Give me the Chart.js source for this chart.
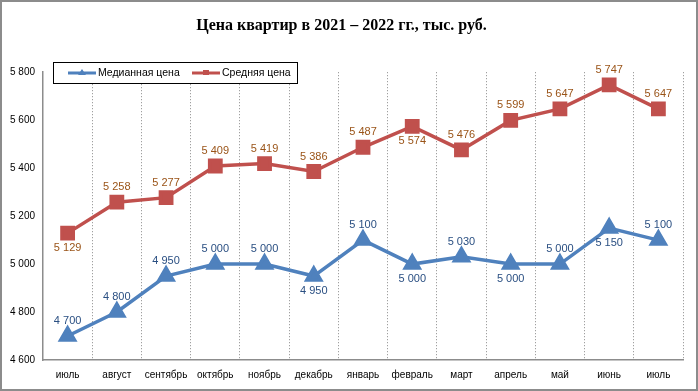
<!DOCTYPE html>
<html>
<head>
<meta charset="utf-8">
<script src="https://cdn.jsdelivr.net/npm/chart.js@4"></script>
<style>
  html, body { margin: 0; padding: 0; background: #fff; }
  #wrap { width: 698px; height: 391px; position: relative; }
</style>
</head>
<body>
<div id="wrap"><canvas id="priceChart"></canvas></div>
<script>
// months from July 2021 to July 2022
var months = ['июль', 'август', 'сентябрь', 'октябрь', 'ноябрь', 'декабрь', 'январь',
    'февраль', 'март', 'апрель', 'май', 'июнь', 'июль'];
var medianPrice = [4700, 4800, 4950, 5000, 5000, 4950, 5100, 5000, 5030, 5000, 5000, 5150, 5100];
var averagePrice = [5129, 5258, 5277, 5409, 5419, 5386, 5487, 5574, 5476, 5599, 5647, 5747, 5647];
var yTicks = [4600, 4800, 5000, 5200, 5400, 5600, 5800];

// where each value label sits: -1 above the point, 1 below
var medianLabelSide = [-1, -1, -1, -1, -1, 1, -1, 1, -1, 1, -1, 1, -1];
var averageLabelSide = [1, -1, -1, -1, -1, -1, -1, 1, -1, -1, -1, -1, -1];

function fmt(v) {
    return String(v).replace(/\B(?=(\d{3})+(?!\d))/g, ' ');
}

var blue = '#4F81BD';
var red = '#C0504D';

var valueLabels = {
    id: 'valueLabels',
    afterDatasetsDraw: function (chart) {
        var ctx = chart.ctx;
        ctx.save();
        ctx.font = '11px "Liberation Sans", Arial, sans-serif';
        ctx.textAlign = 'center';
        ctx.textBaseline = 'middle';
        chart.data.datasets.forEach(function (ds, di) {
            var meta = chart.getDatasetMeta(di);
            meta.data.forEach(function (pt, i) {
                ctx.fillStyle = ds.labelColor;
                ctx.fillText(fmt(ds.data[i]), pt.x, pt.y + ds.labelSide[i] * 15);
            });
        });
        ctx.restore();
    }
};

var boxedLegend = {
    id: 'boxedLegend',
    afterDraw: function (chart) {
        var ctx = chart.ctx;
        ctx.save();
        ctx.strokeStyle = '#000';
        ctx.lineWidth = 1;
        ctx.fillStyle = '#fff';
        ctx.fillRect(53.5, 62.5, 244, 21);
        ctx.strokeRect(53.5, 62.5, 244, 21);
        var starts = [68, 192];
        ctx.font = '10.5px "Liberation Sans", Arial, sans-serif';
        ctx.textBaseline = 'middle';
        chart.data.datasets.forEach(function (ds, di) {
            var x = starts[di], y = 73;
            ctx.strokeStyle = ds.borderColor;
            ctx.lineWidth = 3;
            ctx.beginPath();
            ctx.moveTo(x, y);
            ctx.lineTo(x + 28, y);
            ctx.stroke();
            ctx.fillStyle = ds.borderColor;
            if (di === 0) {
                ctx.beginPath();
                ctx.moveTo(x + 14, y - 4);
                ctx.lineTo(x + 18, y + 2);
                ctx.lineTo(x + 10, y + 2);
                ctx.closePath();
                ctx.fill();
            } else {
                ctx.fillRect(x + 11, y - 3, 6, 5);
            }
            ctx.fillStyle = '#000';
            ctx.fillText(ds.label, x + 30, y);
        });
        ctx.restore();
    }
};

var frame = {
    id: 'frame',
    afterDraw: function (chart) {
        var ctx = chart.ctx;
        ctx.save();
        ctx.strokeStyle = '#8c8c8c';
        ctx.lineWidth = 2;
        ctx.strokeRect(1, 1, chart.width - 2, chart.height - 2);
        ctx.restore();
    }
};

new Chart(document.getElementById('priceChart').getContext('2d'), {
    type: 'line',
    data: {
        labels: months,
        datasets: [{
            label: 'Медианная цена',
            data: medianPrice,
            borderColor: blue,
            backgroundColor: blue,
            borderWidth: 3.5,
            pointStyle: 'triangle',
            pointRadius: 8,
            pointHoverRadius: 8,
            labelColor: '#2A4F82',
            labelSide: medianLabelSide,
            tension: 0
        }, {
            label: 'Средняя цена',
            data: averagePrice,
            borderColor: red,
            backgroundColor: red,
            borderWidth: 3.5,
            pointStyle: 'rect',
            pointRadius: 8,
            pointHoverRadius: 8,
            labelColor: '#9A5418',
            labelSide: averageLabelSide,
            tension: 0
        }]
    },
    options: {
        responsive: true,
        maintainAspectRatio: false,
        animation: false,
        layout: { padding: { left: 0, right: 15, top: 0, bottom: 0 } },
        scales: {
            x: {
                offset: true,
                grid: {
                    offset: true,
                    drawTicks: false,
                    color: '#8a8a8a',
                    lineWidth: 1
                },
                // dash here applies to the vertical gridlines
                border: { display: true, color: '#8c8c8c', width: 1.5, dash: [1, 2] },
                ticks: {
                    color: '#000',
                    padding: 9,
                    maxRotation: 0,
                    autoSkip: false,
                    font: { family: '"Liberation Sans", Arial, sans-serif', size: 10 }
                },
                afterFit: function (scale) { scale.height = 31; }
            },
            y: {
                min: 4600,
                max: 5800,
                afterBuildTicks: function (scale) {
                    scale.ticks = yTicks.map(function (v) { return { value: v }; });
                },
                grid: { display: false, drawTicks: false },
                border: { display: true, color: '#8c8c8c', width: 1.5 },
                ticks: {
                    color: '#000',
                    padding: 8,
                    font: { family: '"Liberation Sans", Arial, sans-serif', size: 10 },
                    callback: function (v) { return fmt(v); }
                },
                afterFit: function (scale) { scale.width = 43; }
            }
        },
        plugins: {
            legend: { display: false },
            tooltip: { enabled: false },
            title: {
                display: true,
                text: 'Цена квартир в 2021 – 2022 гг., тыс. руб.',
                color: '#000',
                font: { family: '"Liberation Serif", "Times New Roman", serif', size: 16, weight: 'bold', lineHeight: 1.2 },
                padding: { top: 16, bottom: 37 }
            }
        }
    },
    plugins: [valueLabels, boxedLegend, frame]
});
</script>
</body>
</html>
